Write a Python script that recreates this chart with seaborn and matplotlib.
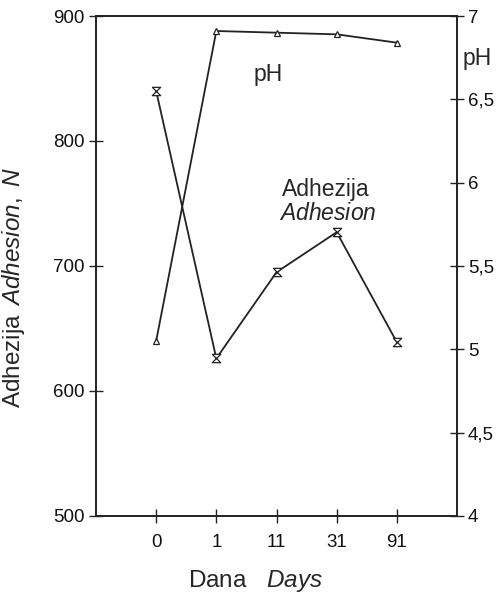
import matplotlib
matplotlib.use("Agg")
import matplotlib.pyplot as plt
import seaborn as sns
import numpy as np
import pandas as pd

days = ["0", "1", "11", "31", "91"]
adhesion = [840, 626, 695, 727, 639]
ph = [5.05, 6.91, 6.90, 6.89, 6.84]

sns.set_style("ticks")
plt.rcParams["font.family"] = ["Liberation Sans", "DejaVu Sans"]
plt.rcParams["mathtext.fontset"] = "custom"
plt.rcParams["mathtext.rm"] = "Liberation Sans"
plt.rcParams["mathtext.it"] = "Liberation Sans:italic"

df = pd.DataFrame({"pos": np.arange(len(days)), "adhesion": adhesion, "ph": ph})

fig = plt.figure(figsize=(5.0, 5.93), dpi=100)
ax = fig.add_axes([0.192, 0.13, 0.722, 0.843])
ax2 = ax.twinx()

hourglass = [(-1, 1), (1, 1), (-1, -1), (1, -1), (-1, 1)]
sns.lineplot(data=df, x="pos", y="adhesion", ax=ax, color="#222222", lw=1.3,
             marker=hourglass, markersize=6, markerfacecolor="white",
             markeredgecolor="#222222", markeredgewidth=0.9)
sns.lineplot(data=df, x="pos", y="ph", ax=ax2, color="#222222", lw=1.3,
             marker="^", markersize=5, markerfacecolor="white",
             markeredgecolor="#222222", markeredgewidth=0.9)

ax.set_xlim(-1, 5)
ax.set_ylim(500, 900)
ax2.set_ylim(4, 7)
ax.set_xticks(np.arange(len(days)))
ax.set_xticklabels(days)
ax.set_yticks([500, 600, 700, 800, 900])
ax2.set_yticks([4, 4.5, 5, 5.5, 6, 6.5, 7])
ax2.set_yticklabels(["4", "4,5", "5", "5,5", "6", "6,5", "7"])

for a in (ax, ax2):
    for s in a.spines.values():
        s.set_visible(True)
        s.set_color("#222222")
        s.set_linewidth(1.2)
    a.tick_params(direction="inout", length=10, width=1.0, labelsize=13.5,
                  colors="#222222", labelcolor="#111111")
ax.tick_params(axis="x", pad=8)
ax.tick_params(axis="y", pad=3)
ax2.tick_params(axis="y", pad=3)

ax.set_xlabel(r"Dana $\mathit{\ \ Days}$", fontsize=17.5)
ax.xaxis.set_label_coords(0.443, -0.105)
ax.set_ylabel(r"Adhezija $\mathit{\,Adhesion,\ N}$", fontsize=17.5)
ax.yaxis.set_label_coords(-0.19, 0.458)
ax2.set_ylabel("")

ax.text(1.86, 853, "pH", fontsize=16.5, ha="center", va="center")
ax.text(2.82, 761, "Adhezija", fontsize=16.5, ha="center", va="center")
ax.text(2.85, 742, r"$\mathit{Adhesion}$", fontsize=16.5, ha="center", va="center")
ax2.text(1.015, 0.915, "pH", transform=ax.transAxes, fontsize=16.5, ha="left", va="center")

fig.savefig("out.png", dpi=100)
